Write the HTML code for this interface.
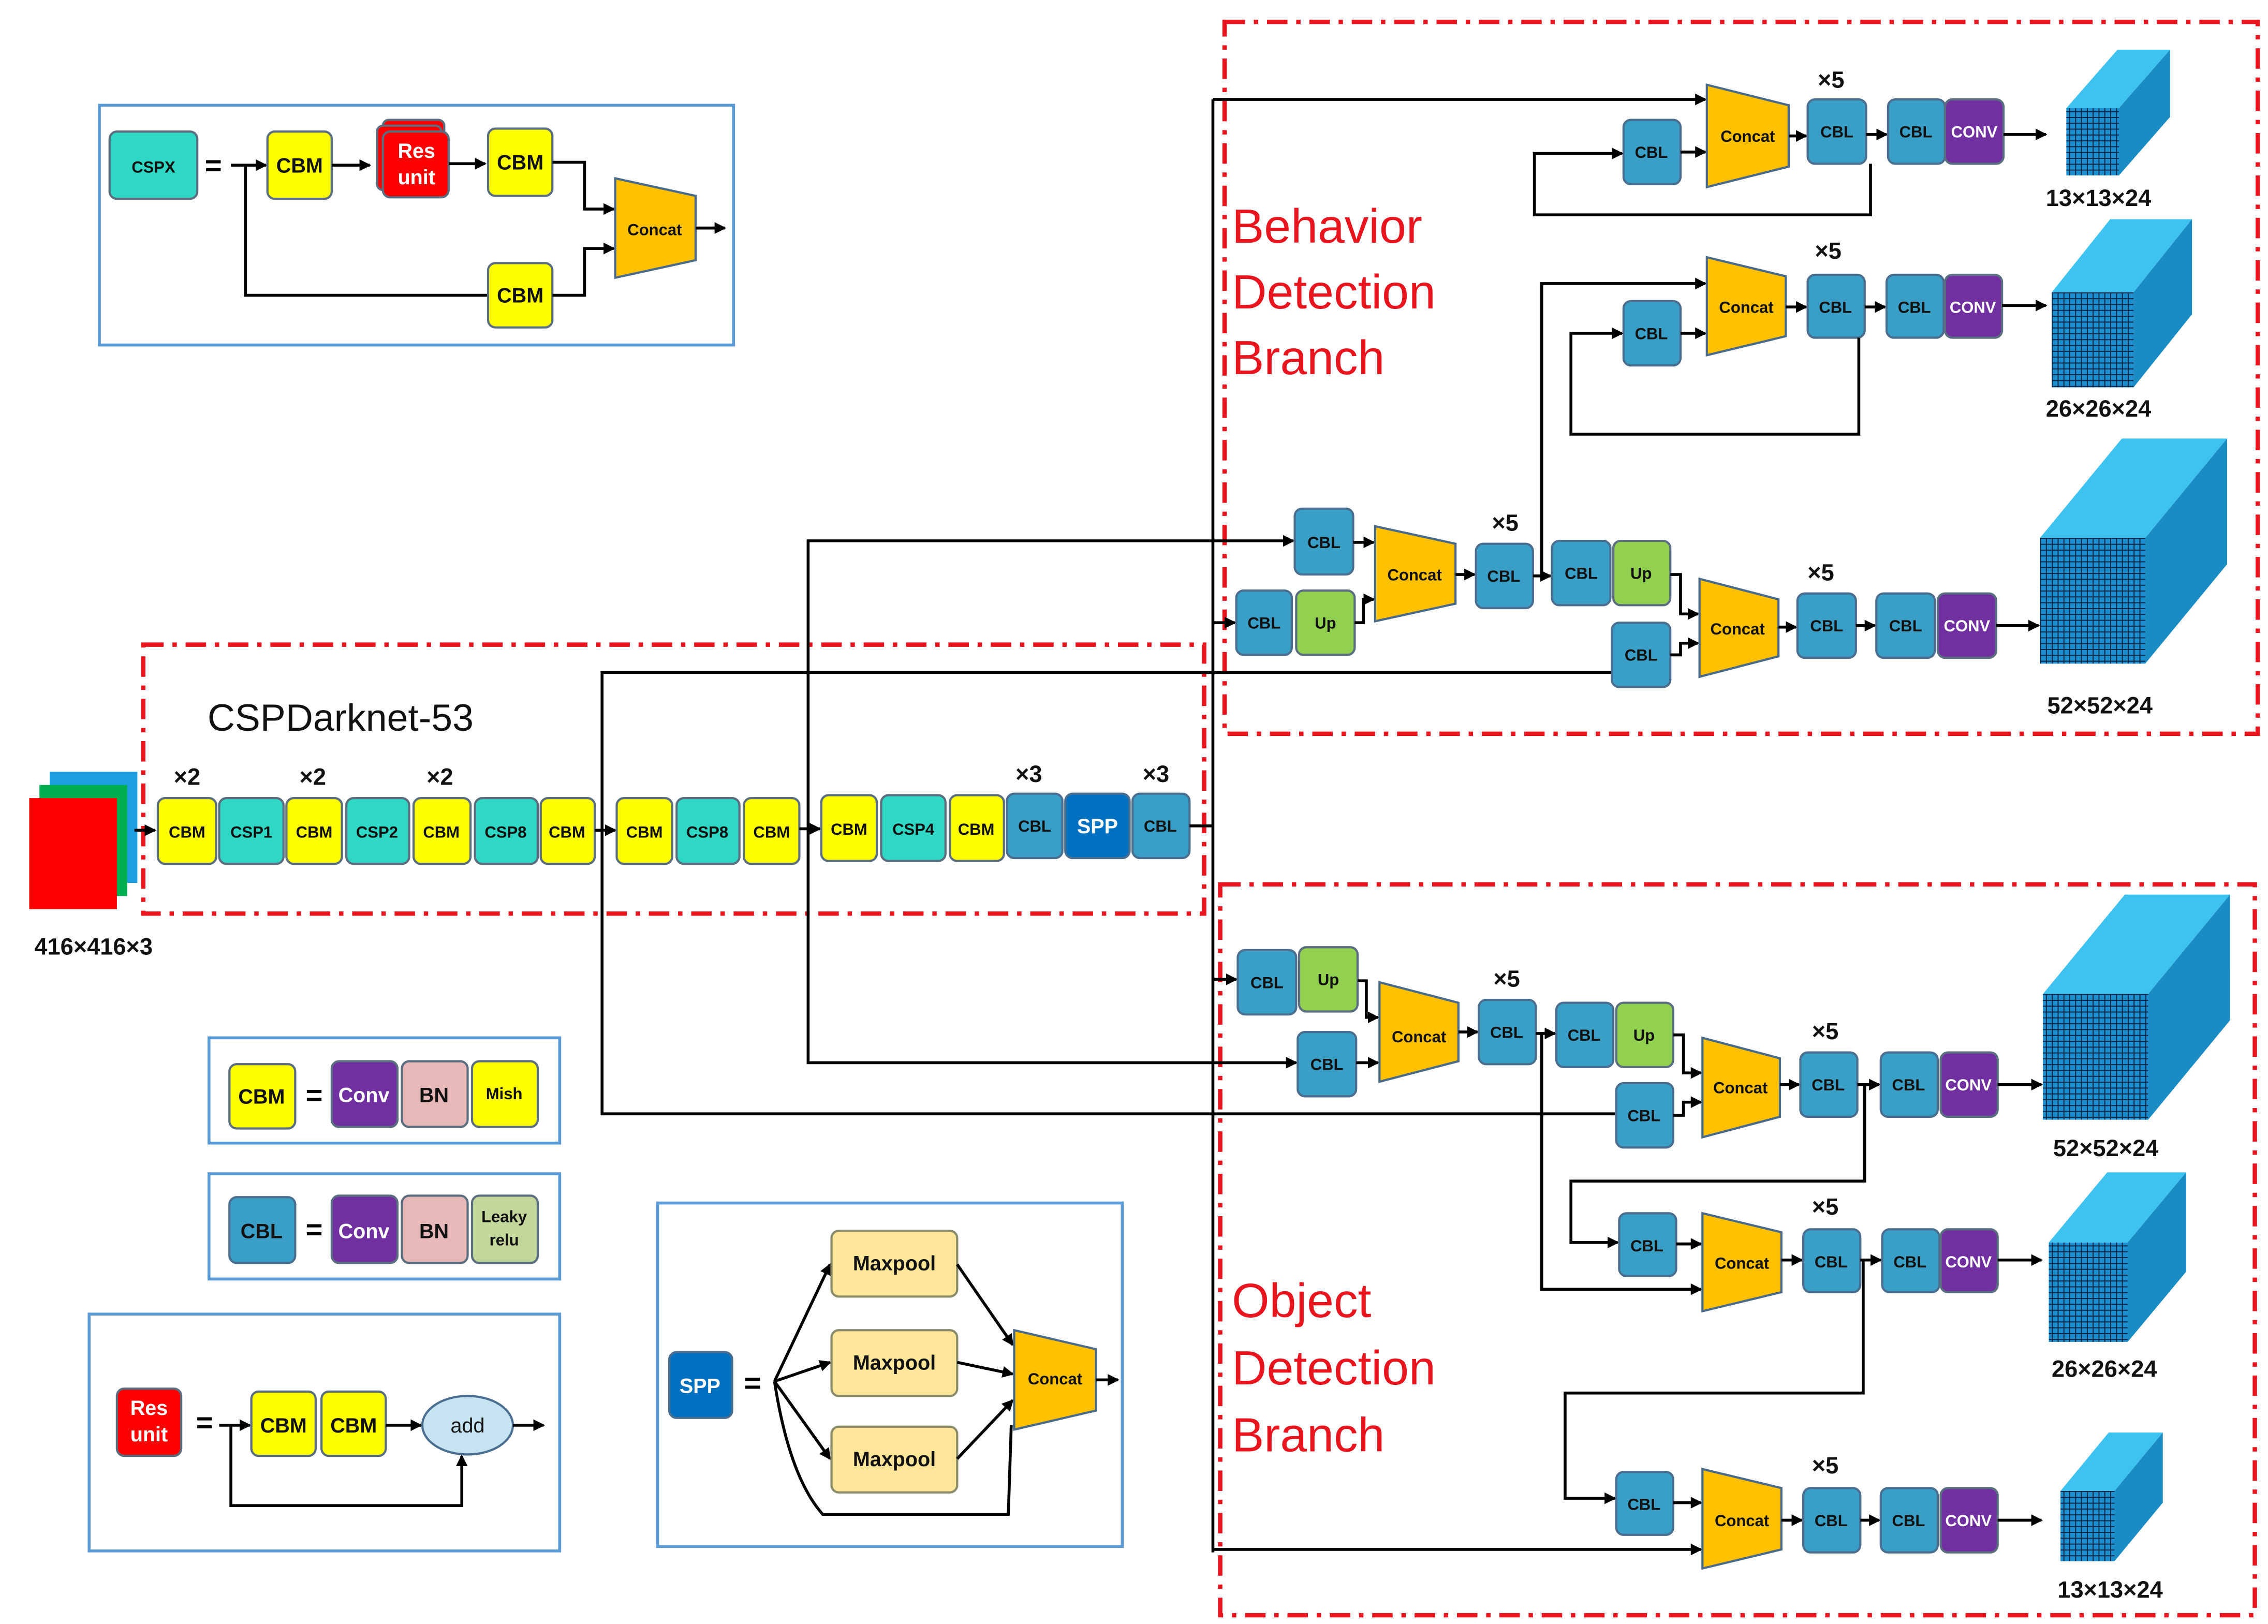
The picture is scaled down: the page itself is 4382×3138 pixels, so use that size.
<!DOCTYPE html>
<html><head><meta charset="utf-8"><style>
html,body{margin:0;padding:0;background:#fff;}
svg{display:block;}
text{font-family:"Liberation Sans",sans-serif;font-weight:bold;}
</style></head><body>
<svg width="4382" height="3138" viewBox="0 0 1552 1111" preserveAspectRatio="none" xmlns="http://www.w3.org/2000/svg">
<defs>
<marker id="a" markerWidth="8" markerHeight="8" refX="7" refY="4" orient="auto" markerUnits="userSpaceOnUse"><path d="M0,0 L8,4 L0,8 z" fill="#000"/></marker>
<pattern id="g" width="4" height="4" patternUnits="userSpaceOnUse"><path d="M0,0 H4 M0,0 V4" stroke="#0b2545" stroke-width="1.4"/></pattern>
<style>
.y{fill:#ffff00;stroke:#5a6e80;stroke-width:1.5}
.t{fill:#2fd8c4;stroke:#5a6e80;stroke-width:1.5}
.b{fill:#3a9fc6;stroke:#4a6e90;stroke-width:1.5}
.p{fill:#7030a0;stroke:#5a6e80;stroke-width:1.5}
.pk{fill:#e6b8b7;stroke:#5a6e80;stroke-width:1.5}
.lr{fill:#c4d79b;stroke:#5a6e80;stroke-width:1.5}
.up{fill:#92d050;stroke:#5a6e80;stroke-width:1.5}
.c{fill:#ffc000;stroke:#4a6a8a;stroke-width:1.5}
.r{fill:#ff0000;stroke:#5a6e80;stroke-width:1.5}
.m{fill:#ffe699;stroke:#8a8a6a;stroke-width:1.5}
.l{fill:none;stroke:#000;stroke-width:2}
.la{fill:none;stroke:#000;stroke-width:2;marker-end:url(#a)}
.lg{fill:none;stroke:#5b9bd5;stroke-width:2}
.rd{fill:none;stroke:#e8141e;stroke-width:3;stroke-dasharray:14,6,3,6}
.s{font-size:11px;fill:#111;text-anchor:middle}
.sw{font-size:11px;fill:#fff;text-anchor:middle}
.n{font-size:14px;fill:#111;text-anchor:middle}
.lab{font-size:16px;fill:#111;text-anchor:middle}
.big{font-size:33px;fill:#e8141e;font-weight:normal}
</style>
</defs>

<rect class="rd" x="98" y="441" width="726" height="184"/>
<rect class="rd" x="838" y="15" width="707" height="487"/>
<rect class="rd" x="835" y="605" width="708" height="500"/>

<rect class="lg" x="68" y="72" width="434" height="164"/>
<rect class="t" x="75" y="90" width="60" height="46" rx="5"/><text class="s" x="105" y="118">CSPX</text>
<text x="146" y="120" font-size="20" text-anchor="middle">=</text>
<path class="la" d="M158,113 H182"/>
<path class="l" d="M168,113 V202 H334"/>
<rect class="y" x="183" y="90" width="44" height="46" rx="5"/><text class="n" x="205" y="118">CBM</text>
<path class="la" d="M227,113 H253"/>
<rect class="r" x="262" y="82" width="42" height="42" rx="4"/>
<rect class="r" x="258" y="86" width="44" height="44" rx="4"/>
<rect class="r" x="262" y="90" width="45" height="45" rx="5"/>
<text class="n" x="285" y="108" style="fill:#fff">Res</text><text x="285" y="126" class="n" style="fill:#fff">unit</text>
<path class="la" d="M307,112 H332"/>
<rect class="y" x="334" y="88" width="44" height="46" rx="5"/><text class="n" x="356" y="116">CBM</text>
<path class="la" d="M378,111 H400 V143 H420"/>
<rect class="y" x="334" y="180" width="44" height="44" rx="5"/><text class="n" x="356" y="207">CBM</text>
<path class="la" d="M378,202 H400 V170 H420"/>
<polygon class="c" points="421,122 476,134 476,178 421,190"/><text class="s" x="448" y="161">Concat</text>
<path class="la" d="M476,156 H496"/>

<text x="142" y="500" font-size="26" fill="#111" style="font-weight:normal">CSPDarknet-53</text>
<rect x="34" y="528" width="60" height="76" fill="#1ea0e0"/>
<rect x="27" y="537" width="60" height="76" fill="#00b050"/>
<rect x="20" y="546" width="60" height="76" fill="#ff0000"/>
<text class="lab" x="64" y="653">416×416×3</text>
<path class="la" d="M92,568 H106"/>
<text class="lab" x="128" y="537">×2</text><text class="lab" x="214" y="537">×2</text><text class="lab" x="301" y="537">×2</text>
<text class="lab" x="704" y="535">×3</text><text class="lab" x="791" y="535">×3</text>
<rect class="y" x="108" y="546" width="40" height="45" rx="5"/><text class="s" x="128" y="573">CBM</text>
<rect class="t" x="150" y="546" width="44" height="45" rx="5"/><text class="s" x="172" y="573">CSP1</text>
<rect class="y" x="196" y="546" width="38" height="45" rx="5"/><text class="s" x="215" y="573">CBM</text>
<rect class="t" x="237" y="546" width="43" height="45" rx="5"/><text class="s" x="258" y="573">CSP2</text>
<rect class="y" x="283" y="546" width="39" height="45" rx="5"/><text class="s" x="302" y="573">CBM</text>
<rect class="t" x="325" y="546" width="43" height="45" rx="5"/><text class="s" x="346" y="573">CSP8</text>
<rect class="y" x="370" y="546" width="37" height="45" rx="5"/><text class="s" x="388" y="573">CBM</text>
<path class="la" d="M407,568 H421"/>
<rect class="y" x="422" y="546" width="38" height="45" rx="5"/><text class="s" x="441" y="573">CBM</text>
<rect class="t" x="463" y="546" width="43" height="45" rx="5"/><text class="s" x="484" y="573">CSP8</text>
<rect class="y" x="509" y="546" width="38" height="45" rx="5"/><text class="s" x="528" y="573">CBM</text>
<path class="la" d="M547,567 H561"/>
<rect class="y" x="562" y="544" width="38" height="45" rx="5"/><text class="s" x="581" y="571">CBM</text>
<rect class="t" x="603" y="544" width="44" height="45" rx="5"/><text class="s" x="625" y="571">CSP4</text>
<rect class="y" x="650" y="544" width="37" height="45" rx="5"/><text class="s" x="668" y="571">CBM</text>
<rect class="b" x="689" y="543" width="38" height="44" rx="5"/><text class="s" x="708" y="569">CBL</text>
<rect x="729" y="543" width="44" height="44" rx="5" fill="#0070c0" stroke="#4a6e90" stroke-width="1.5"/><text class="n" x="751" y="570" style="fill:#fff">SPP</text>
<rect class="b" x="775" y="543" width="39" height="44" rx="5"/><text class="s" x="794" y="569">CBL</text>

<path class="l" d="M814,565 H830"/>
<path class="l" d="M830,68 V1062"/>
<path class="la" d="M830,68 H1167"/>
<path class="la" d="M830,1060 H1164"/>
<path class="la" d="M830,426 H845"/>
<path class="la" d="M830,670 H846"/>
<path class="l" d="M412,568 V460 H1103"/>
<path class="l" d="M412,568 V762 H1105"/>
<path class="la" d="M553,567 V370 H885"/>
<path class="la" d="M553,567 V727 H887"/>

<text class="big" x="843" y="166">Behavior</text>
<text class="big" x="843" y="211">Detection</text>
<text class="big" x="843" y="256">Branch</text>

<rect class="b" x="886" y="348" width="40" height="45" rx="5"/><text class="s" x="906" y="375">CBL</text>
<rect class="b" x="846" y="404" width="38" height="44" rx="5"/><text class="s" x="865" y="430">CBL</text>
<rect class="up" x="887" y="404" width="40" height="44" rx="5"/><text class="s" x="907" y="430">Up</text>
<path class="la" d="M926,371 H940"/>
<path class="la" d="M927,426 H933 V410 H940"/>
<polygon class="c" points="941,360 996,372 996,413 941,425"/><text class="s" x="968" y="397">Concat</text>
<path class="la" d="M996,393 H1009"/>
<text class="lab" x="1030" y="363">×5</text>
<rect class="b" x="1010" y="372" width="39" height="44" rx="5"/><text class="s" x="1029" y="398">CBL</text>
<path class="la" d="M1049,394 H1061"/>
<rect class="b" x="1062" y="370" width="40" height="44" rx="5"/><text class="s" x="1082" y="396">CBL</text>
<rect class="up" x="1104" y="370" width="39" height="44" rx="5"/><text class="s" x="1123" y="396">Up</text>
<path class="la" d="M1143,393 H1150 V420 H1162"/>
<rect class="b" x="1103" y="426" width="40" height="44" rx="5"/><text class="s" x="1123" y="452">CBL</text>
<path class="la" d="M1143,448 H1150 V440 H1162"/>
<polygon class="c" points="1163,396 1217,410 1217,449 1163,463"/><text class="s" x="1189" y="434">Concat</text>
<path class="la" d="M1217,429 H1229"/>
<text class="lab" x="1246" y="397">×5</text>
<rect class="b" x="1230" y="406" width="40" height="44" rx="5"/><text class="s" x="1250" y="432">CBL</text>
<path class="la" d="M1270,428 H1283"/>
<rect class="b" x="1284" y="406" width="40" height="44" rx="5"/><text class="s" x="1304" y="432">CBL</text>
<rect class="p" x="1326" y="406" width="40" height="44" rx="5"/><text class="sw" x="1346" y="432">CONV</text>
<path class="la" d="M1366,428 H1395"/>

<path class="la" d="M1055,394 V194 H1167"/>
<rect class="b" x="1111" y="206" width="39" height="44" rx="5"/><text class="s" x="1130" y="232">CBL</text>
<path class="la" d="M1150,228 H1167"/>
<polygon class="c" points="1168,176 1222,189 1222,230 1168,243"/><text class="s" x="1195" y="214">Concat</text>
<path class="la" d="M1222,210 H1236"/>
<text class="lab" x="1251" y="177">×5</text>
<rect class="b" x="1237" y="188" width="39" height="43" rx="5"/><text class="s" x="1256" y="214">CBL</text>
<path class="la" d="M1276,210 H1290"/>
<rect class="b" x="1291" y="188" width="39" height="43" rx="5"/><text class="s" x="1310" y="214">CBL</text>
<rect class="p" x="1331" y="188" width="39" height="43" rx="5"/><text class="sw" x="1350" y="214">CONV</text>
<path class="la" d="M1370,209 H1400"/>
<path class="la" d="M1272,231 V297 H1075 V228 H1110"/>

<rect class="b" x="1111" y="82" width="39" height="44" rx="5"/><text class="s" x="1130" y="108">CBL</text>
<path class="la" d="M1150,104 H1167"/>
<polygon class="c" points="1168,58 1224,72 1224,114 1168,128"/><text class="s" x="1196" y="97">Concat</text>
<path class="la" d="M1224,93 H1236"/>
<text class="lab" x="1253" y="60">×5</text>
<rect class="b" x="1237" y="68" width="40" height="44" rx="5"/><text class="s" x="1257" y="94">CBL</text>
<path class="la" d="M1277,92 H1291"/>
<rect class="b" x="1292" y="68" width="39" height="44" rx="5"/><text class="s" x="1311" y="94">CBL</text>
<rect class="p" x="1331" y="68" width="40" height="44" rx="5"/><text class="sw" x="1351" y="94">CONV</text>
<path class="la" d="M1371,92 H1400"/>
<path class="la" d="M1280,112 V147 H1050 V105 H1110"/>

<text class="big" x="843" y="901">Object</text>
<text class="big" x="843" y="947">Detection</text>
<text class="big" x="843" y="993">Branch</text>

<rect class="b" x="847" y="650" width="40" height="44" rx="5"/><text class="s" x="867" y="676">CBL</text>
<rect class="up" x="889" y="648" width="40" height="44" rx="5"/><text class="s" x="909" y="674">Up</text>
<path class="la" d="M929,671 H935 V696 H943"/>
<rect class="b" x="888" y="706" width="40" height="44" rx="5"/><text class="s" x="908" y="732">CBL</text>
<path class="la" d="M928,727 H943"/>
<polygon class="c" points="944,672 998,686 998,726 944,740"/><text class="s" x="971" y="713">Concat</text>
<path class="la" d="M998,706 H1011"/>
<text class="lab" x="1031" y="675">×5</text>
<rect class="b" x="1012" y="684" width="39" height="44" rx="5"/><text class="s" x="1031" y="710">CBL</text>
<path class="la" d="M1051,707 H1064"/>
<rect class="b" x="1065" y="686" width="39" height="44" rx="5"/><text class="s" x="1084" y="712">CBL</text>
<rect class="up" x="1106" y="686" width="39" height="44" rx="5"/><text class="s" x="1125" y="712">Up</text>
<path class="la" d="M1145,708 H1152 V734 H1164"/>
<rect class="b" x="1106" y="741" width="39" height="44" rx="5"/><text class="s" x="1125" y="767">CBL</text>
<path class="la" d="M1145,763 H1152 V754 H1164"/>
<polygon class="c" points="1165,710 1218,724 1218,764 1165,778"/><text class="s" x="1191" y="748">Concat</text>
<path class="la" d="M1218,742 H1231"/>
<text class="lab" x="1249" y="711">×5</text>
<rect class="b" x="1232" y="720" width="39" height="44" rx="5"/><text class="s" x="1251" y="746">CBL</text>
<path class="la" d="M1271,742 H1286"/>
<rect class="b" x="1287" y="720" width="39" height="44" rx="5"/><text class="s" x="1306" y="746">CBL</text>
<rect class="p" x="1328" y="720" width="39" height="44" rx="5"/><text class="sw" x="1347" y="746">CONV</text>
<path class="la" d="M1367,742 H1397"/>

<path class="la" d="M1276,742 V808 H1075 V850 H1107"/>
<path class="la" d="M1055,707 V882 H1164"/>
<rect class="b" x="1108" y="830" width="39" height="43" rx="5"/><text class="s" x="1127" y="856">CBL</text>
<path class="la" d="M1147,851 H1164"/>
<polygon class="c" points="1165,830 1219,843 1219,884 1165,897"/><text class="s" x="1192" y="868">Concat</text>
<path class="la" d="M1219,862 H1233"/>
<text class="lab" x="1249" y="831">×5</text>
<rect class="b" x="1234" y="841" width="39" height="43" rx="5"/><text class="s" x="1253" y="867">CBL</text>
<path class="la" d="M1273,862 H1287"/>
<rect class="b" x="1288" y="841" width="39" height="43" rx="5"/><text class="s" x="1307" y="867">CBL</text>
<rect class="p" x="1328" y="841" width="39" height="43" rx="5"/><text class="sw" x="1347" y="867">CONV</text>
<path class="la" d="M1367,862 H1397"/>

<path class="la" d="M1275,862 V953 H1071 V1025 H1105"/>
<rect class="b" x="1106" y="1007" width="39" height="43" rx="5"/><text class="s" x="1125" y="1033">CBL</text>
<path class="la" d="M1145,1028 H1164"/>
<polygon class="c" points="1165,1005 1219,1018 1219,1060 1165,1073"/><text class="s" x="1192" y="1044">Concat</text>
<path class="la" d="M1219,1040 H1233"/>
<text class="lab" x="1249" y="1008">×5</text>
<rect class="b" x="1234" y="1018" width="39" height="44" rx="5"/><text class="s" x="1253" y="1044">CBL</text>
<path class="la" d="M1273,1040 H1286"/>
<rect class="b" x="1287" y="1018" width="39" height="44" rx="5"/><text class="s" x="1306" y="1044">CBL</text>
<rect class="p" x="1328" y="1018" width="39" height="44" rx="5"/><text class="sw" x="1347" y="1044">CONV</text>
<path class="la" d="M1367,1040 H1397"/>

<g>
<polygon points="1414,74 1449,34 1485,34 1450,74" fill="#3ec3f0"/><polygon points="1450,74 1485,34 1485,80 1450,120" fill="#1a8cc4"/><rect x="1414" y="74" width="36" height="46" fill="#1b8fd0"/><rect x="1414" y="74" width="36" height="46" fill="url(#g)"/>
<text class="lab" x="1436" y="141">13×13×24</text>
<polygon points="1404,200 1444,150 1500,150 1460,200" fill="#3ec3f0"/><polygon points="1460,200 1500,150 1500,215 1460,265" fill="#1a8cc4"/><rect x="1404" y="200" width="56" height="65" fill="#1b8fd0"/><rect x="1404" y="200" width="56" height="65" fill="url(#g)"/>
<text class="lab" x="1436" y="285">26×26×24</text>
<polygon points="1396,368 1452,300 1524,300 1468,368" fill="#3ec3f0"/><polygon points="1468,368 1524,300 1524,386 1468,454" fill="#1a8cc4"/><rect x="1396" y="368" width="72" height="86" fill="#1b8fd0"/><rect x="1396" y="368" width="72" height="86" fill="url(#g)"/>
<text class="lab" x="1437" y="488">52×52×24</text>
<polygon points="1398,680 1454,612 1526,612 1470,680" fill="#3ec3f0"/><polygon points="1470,680 1526,612 1526,698 1470,766" fill="#1a8cc4"/><rect x="1398" y="680" width="72" height="86" fill="#1b8fd0"/><rect x="1398" y="680" width="72" height="86" fill="url(#g)"/>
<text class="lab" x="1441" y="791">52×52×24</text>
<polygon points="1402,850 1442,802 1496,802 1456,850" fill="#3ec3f0"/><polygon points="1456,850 1496,802 1496,870 1456,918" fill="#1a8cc4"/><rect x="1402" y="850" width="54" height="68" fill="#1b8fd0"/><rect x="1402" y="850" width="54" height="68" fill="url(#g)"/>
<text class="lab" x="1440" y="942">26×26×24</text>
<polygon points="1410,1020 1443,980 1480,980 1447,1020" fill="#3ec3f0"/><polygon points="1447,1020 1480,980 1480,1028 1447,1068" fill="#1a8cc4"/><rect x="1410" y="1020" width="37" height="48" fill="#1b8fd0"/><rect x="1410" y="1020" width="37" height="48" fill="url(#g)"/>
<text class="lab" x="1444" y="1093">13×13×24</text>
</g>

<rect class="lg" x="143" y="710" width="240" height="72"/>
<rect class="y" x="157" y="728" width="45" height="44" rx="5"/><text class="n" x="179" y="755">CBM</text>
<text x="215" y="756" font-size="20" text-anchor="middle">=</text>
<rect class="p" x="227" y="726" width="45" height="45" rx="5"/><text class="n" x="249" y="754" style="fill:#fff">Conv</text>
<rect class="pk" x="275" y="726" width="45" height="45" rx="5"/><text class="n" x="297" y="754">BN</text>
<rect class="y" x="323" y="726" width="45" height="45" rx="5"/><text class="s" x="345" y="752">Mish</text>
<rect class="lg" x="143" y="803" width="240" height="72"/>
<rect class="b" x="157" y="819" width="45" height="45" rx="5"/><text class="n" x="179" y="847">CBL</text>
<text x="215" y="848" font-size="20" text-anchor="middle">=</text>
<rect class="p" x="227" y="818" width="45" height="46" rx="5"/><text class="n" x="249" y="847" style="fill:#fff">Conv</text>
<rect class="pk" x="275" y="818" width="45" height="46" rx="5"/><text class="n" x="297" y="847">BN</text>
<rect class="lr" x="323" y="818" width="45" height="46" rx="5"/><text class="s" x="345" y="836">Leaky</text><text class="s" x="345" y="852">relu</text>

<rect class="lg" x="61" y="899" width="322" height="162"/>
<rect class="r" x="80" y="950" width="44" height="46" rx="5"/><text class="n" x="102" y="968" style="fill:#fff">Res</text><text class="n" x="102" y="986" style="fill:#fff">unit</text>
<text x="140" y="980" font-size="20" text-anchor="middle">=</text>
<path class="la" d="M150,975 H171"/>
<path class="la" d="M158,975 V1030 H316 V996"/>
<rect class="y" x="172" y="952" width="44" height="44" rx="5"/><text class="n" x="194" y="980">CBM</text>
<rect class="y" x="220" y="952" width="44" height="44" rx="5"/><text class="n" x="242" y="980">CBM</text>
<path class="la" d="M264,975 H288"/>
<ellipse cx="320" cy="975" rx="31" ry="20" fill="#c5e3f0" stroke="#4a6e90" stroke-width="1.5"/><text class="n" x="320" y="980" style="font-weight:normal">add</text>
<path class="la" d="M351,975 H372"/>

<rect class="lg" x="450" y="823" width="318" height="235"/>
<rect x="458" y="925" width="43" height="45" rx="5" fill="#0070c0" stroke="#4a6e90" stroke-width="1.5"/><text class="n" x="479" y="953" style="fill:#fff">SPP</text>
<text x="515" y="953" font-size="20" text-anchor="middle">=</text>
<path class="la" d="M530,945 L568,865"/>
<path class="la" d="M530,945 L568,932"/>
<path class="la" d="M530,945 L568,998"/>
<path class="l" d="M530,945 Q540,1010 563,1036 H690 L692,975"/>
<rect class="m" x="569" y="842" width="86" height="45" rx="5"/><text class="n" x="612" y="869">Maxpool</text>
<rect class="m" x="569" y="910" width="86" height="45" rx="5"/><text class="n" x="612" y="937">Maxpool</text>
<rect class="m" x="569" y="976" width="86" height="45" rx="5"/><text class="n" x="612" y="1003">Maxpool</text>
<path class="la" d="M655,865 L693,920"/>
<path class="la" d="M655,932 L693,940"/>
<path class="la" d="M655,998 L693,958"/>
<polygon class="c" points="694,910 750,923 750,965 694,978"/><text class="s" x="722" y="947">Concat</text>
<path class="la" d="M750,944 H765"/>
</svg>
</body></html>
